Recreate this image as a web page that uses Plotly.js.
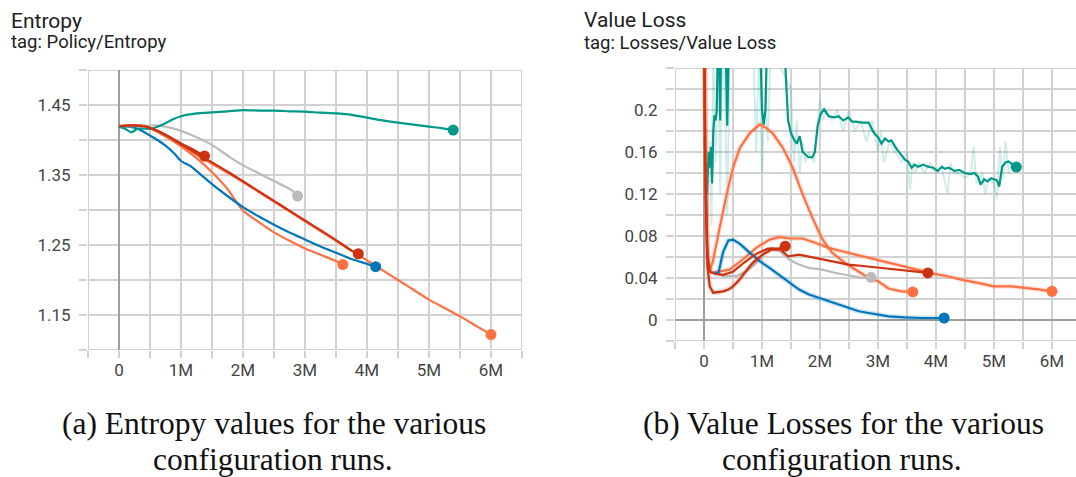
<!DOCTYPE html>
<html><head><meta charset="utf-8">
<script src="https://cdn.plot.ly/plotly-3.0.1.min.js"></script>
<style>html,body{margin:0;padding:0;background:#fff;overflow:hidden}#chart{width:1076px;height:477px}</style>
</head><body><div id="chart"></div>
<script>
// ---------- Entropy (steps in millions) ----------
const entTealX = [0, 0.1, 0.2, 0.3, 0.5, 0.62, 0.75, 0.88, 1.0, 1.25, 1.5, 1.75, 2.0, 2.25, 2.5, 2.75, 3.0, 3.25, 3.5, 3.75, 4.0, 4.25, 4.5, 4.75, 5.0, 5.2, 5.39];
const entTealY = [1.419, 1.416, 1.411, 1.416, 1.416, 1.419, 1.424, 1.430, 1.434, 1.438, 1.4395, 1.441, 1.4428, 1.442, 1.442, 1.441, 1.4405, 1.439, 1.438, 1.436, 1.432, 1.428, 1.4247, 1.422, 1.419, 1.417, 1.4142];
const entGreyX = [0, 0.3, 0.6, 0.8, 1.0, 1.25, 1.5, 1.78, 2.04, 2.31, 2.58, 2.79, 2.88];
const entGreyY = [1.419, 1.420, 1.421, 1.418, 1.413, 1.404, 1.393, 1.376, 1.362, 1.350, 1.338, 1.328, 1.320];
const entBlueX = [0, 0.15, 0.3, 0.45, 0.6, 0.75, 0.9, 1.0, 1.15, 1.3, 1.5, 1.75, 2.0, 2.25, 2.5, 2.75, 3.0, 3.25, 3.5, 3.75, 4.0, 4.14];
const entBlueY = [1.419, 1.419, 1.416, 1.409, 1.401, 1.392, 1.380, 1.370, 1.363, 1.352, 1.337, 1.320, 1.304, 1.291, 1.279, 1.268, 1.258, 1.248, 1.239, 1.230, 1.223, 1.219];
const entOrangeAX = [0, 0.3, 0.5, 0.75, 1.0, 1.25, 1.5, 1.75, 2.0, 2.25, 2.5, 2.75, 3.0, 3.25, 3.5, 3.61];
const entOrangeAY = [1.419, 1.420, 1.417, 1.405, 1.391, 1.374, 1.354, 1.330, 1.299, 1.283, 1.268, 1.256, 1.245, 1.236, 1.227, 1.222];
const entOrangeBX = [0, 0.2, 0.4, 0.6, 0.8, 1.0, 1.25, 1.5, 1.75, 2.0, 2.25, 2.5, 2.75, 3.0, 3.25, 3.5, 3.75, 4.0, 4.25, 4.5, 4.75, 5.0, 5.25, 5.5, 5.75, 6.0];
const entOrangeBY = [1.420, 1.421, 1.419, 1.413, 1.404, 1.393, 1.379, 1.366, 1.353, 1.340, 1.326, 1.312, 1.298, 1.284, 1.270, 1.256, 1.242, 1.228, 1.214, 1.200, 1.186, 1.172, 1.160, 1.148, 1.135, 1.122];
const entRed1X = [0, 0.2, 0.4, 0.6, 0.8, 1.0, 1.2, 1.38];
const entRed1Y = [1.420, 1.421, 1.420, 1.414, 1.405, 1.395, 1.386, 1.377];
const entRed2X = [0, 0.2, 0.4, 0.6, 0.8, 1.0, 1.25, 1.5, 1.75, 2.0, 2.25, 2.5, 2.75, 3.0, 3.25, 3.5, 3.75, 3.86];
const entRed2Y = [1.420, 1.421, 1.420, 1.414, 1.405, 1.394, 1.381, 1.368, 1.355, 1.341, 1.327, 1.313, 1.299, 1.285, 1.271, 1.257, 1.242, 1.2375];

// ---------- Value Loss (steps in millions) ----------
const vlBlueX = [0.17, 0.25, 0.33, 0.42, 0.5, 0.62, 0.79, 0.96, 1.13, 1.3, 1.47, 1.64, 1.81, 1.98, 2.15, 2.32, 2.49, 2.67, 2.84, 3.0, 3.18, 3.46, 3.75, 4.14];
const vlBlueY = [0.044, 0.045, 0.065, 0.0757, 0.0766, 0.0725, 0.0639, 0.056, 0.0496, 0.0425, 0.0353, 0.029, 0.0242, 0.021, 0.0178, 0.0146, 0.0114, 0.0083, 0.0067, 0.0051, 0.0035, 0.0025, 0.0019, 0.0019];
const vlGreyX = [0.1, 0.2, 0.33, 0.56, 0.73, 0.9, 1.07, 1.18, 1.3, 1.47, 1.64, 1.81, 2.04, 2.27, 2.49, 2.72, 2.88];
const vlGreyY = [0.047, 0.044, 0.0417, 0.0417, 0.0464, 0.0544, 0.0655, 0.0687, 0.0655, 0.0576, 0.0528, 0.0496, 0.048, 0.0448, 0.0426, 0.0401, 0.0407];
const vlRed1X = [0, 0.01, 0.03, 0.06, 0.1, 0.16, 0.25, 0.33, 0.42, 0.5, 0.59, 0.67, 0.76, 0.84, 0.93, 1.01, 1.1, 1.16, 1.27, 1.4];
const vlRed1Y = [0.30, 0.24, 0.12, 0.05, 0.032, 0.026, 0.0265, 0.0273, 0.029, 0.0321, 0.037, 0.0432, 0.049, 0.0544, 0.059, 0.0623, 0.065, 0.0671, 0.0671, 0.0703];
const vlRed2X = [0, 0.02, 0.06, 0.1, 0.2, 0.33, 0.5, 0.7, 0.9, 1.1, 1.3, 1.45, 1.64, 1.92, 2.21, 2.49, 2.78, 3.06, 3.35, 3.6, 3.86];
const vlRed2Y = [0.30, 0.15, 0.06, 0.046, 0.044, 0.043, 0.046, 0.055, 0.063, 0.068, 0.068, 0.0607, 0.0623, 0.0592, 0.056, 0.0528, 0.0512, 0.0496, 0.048, 0.0465, 0.0448];
const vlOrangeAX = [0, 0.02, 0.05, 0.1, 0.15, 0.2, 0.27, 0.39, 0.5, 0.62, 0.79, 0.96, 1.07, 1.18, 1.36, 1.53, 1.7, 1.87, 2.04, 2.21, 2.44, 2.67, 2.84, 3.0, 3.18, 3.4, 3.6];
const vlOrangeAY = [0.30, 0.16, 0.07, 0.048, 0.055, 0.07, 0.088, 0.1196, 0.145, 0.164, 0.178, 0.1863, 0.183, 0.178, 0.164, 0.145, 0.1196, 0.0973, 0.077, 0.064, 0.054, 0.046, 0.040, 0.037, 0.030, 0.0273, 0.0267];
const vlOrangeBX = [0, 0.02, 0.06, 0.13, 0.25, 0.44, 0.67, 0.9, 1.13, 1.3, 1.47, 1.7, 1.92, 2.15, 2.38, 2.61, 2.84, 3.06, 3.29, 3.52, 3.75, 3.97, 4.2, 4.43, 4.72, 5.0, 5.28, 5.57, 5.8, 6.0];
const vlOrangeBY = [0.30, 0.15, 0.06, 0.045, 0.046, 0.048, 0.0576, 0.0687, 0.0766, 0.0789, 0.0776, 0.0776, 0.0735, 0.0687, 0.0655, 0.0623, 0.0592, 0.056, 0.0528, 0.0496, 0.0464, 0.0439, 0.0417, 0.0385, 0.0353, 0.0321, 0.0321, 0.0305, 0.029, 0.0273];
const vlTealX = [0.05, 0.08, 0.1, 0.12, 0.14, 0.16, 0.18, 0.2, 0.22, 0.25, 0.28, 0.3, 0.33, 0.36, 0.4, 0.42, 0.45, 0.5, 0.7, 0.95, 1.0, 1.03, 1.06, 1.1, 1.2, 1.35, 1.4, 1.45, 1.5, 1.55, 1.6, 1.65, 1.7, 1.75, 1.8, 1.87, 1.91, 1.96, 2.01, 2.07, 2.15, 2.25, 2.32, 2.4, 2.49, 2.55, 2.62, 2.72, 2.84, 2.92, 3.0, 3.06, 3.12, 3.18, 3.23, 3.32, 3.4, 3.46, 3.52, 3.58, 3.63, 3.69, 3.78, 3.86, 3.95, 4.03, 4.1, 4.15, 4.22, 4.32, 4.4, 4.49, 4.6, 4.66, 4.72, 4.77, 4.83, 4.89, 4.95, 5.0, 5.05, 5.09, 5.14, 5.2, 5.25, 5.3, 5.385];
const vlTealY = [0.12, 0.16, 0.145, 0.165, 0.13, 0.18, 0.195, 0.19, 0.20, 0.30, 0.19, 0.30, 0.24, 0.30, 0.185, 0.30, 0.32, 0.34, 0.36, 0.30, 0.20, 0.186, 0.20, 0.30, 0.35, 0.30, 0.24, 0.19, 0.178, 0.172, 0.168, 0.175, 0.16, 0.157, 0.155, 0.155, 0.16, 0.185, 0.196, 0.2007, 0.194, 0.193, 0.194, 0.190, 0.193, 0.189, 0.189, 0.188, 0.188, 0.179, 0.174, 0.168, 0.173, 0.170, 0.171, 0.163, 0.157, 0.153, 0.151, 0.145, 0.148, 0.146, 0.148, 0.146, 0.145, 0.142, 0.146, 0.144, 0.145, 0.142, 0.143, 0.140, 0.139, 0.140, 0.137, 0.129, 0.134, 0.132, 0.135, 0.134, 0.133, 0.127, 0.146, 0.150, 0.151, 0.149, 0.1456];
const vlTealRawX = [0.06, 0.1, 0.13, 0.16, 0.2, 0.24, 0.28, 0.32, 0.36, 0.4, 0.45, 0.5, 0.55, 0.85, 0.9, 0.95, 1.0, 1.05, 1.1, 1.15, 1.5, 1.55, 1.6, 1.65, 1.7, 1.75, 1.8, 1.9, 2.0, 2.05, 2.1, 2.2, 2.3, 2.4, 2.5, 2.6, 2.7, 2.8, 2.9, 3.0, 3.05, 3.1, 3.2, 3.3, 3.4, 3.5, 3.55, 3.6, 3.65, 3.7, 3.8, 3.9, 4.0, 4.1, 4.2, 4.25, 4.3, 4.4, 4.5, 4.6, 4.65, 4.7, 4.8, 4.85, 4.9, 5.0, 5.05, 5.1, 5.15, 5.2, 5.25, 5.3, 5.385];
const vlTealRawY = [0.10, 0.17, 0.09, 0.26, 0.15, 0.26, 0.12, 0.26, 0.22, 0.10, 0.26, 0.30, 0.26, 0.26, 0.16, 0.26, 0.14, 0.22, 0.17, 0.26, 0.22, 0.15, 0.19, 0.14, 0.17, 0.15, 0.16, 0.15, 0.21, 0.19, 0.20, 0.19, 0.20, 0.18, 0.20, 0.18, 0.19, 0.17, 0.19, 0.16, 0.18, 0.15, 0.17, 0.16, 0.15, 0.16, 0.124, 0.15, 0.14, 0.15, 0.14, 0.15, 0.14, 0.145, 0.12, 0.15, 0.14, 0.14, 0.135, 0.14, 0.165, 0.13, 0.14, 0.12, 0.135, 0.13, 0.115, 0.165, 0.135, 0.17, 0.14, 0.15, 0.146];

// ---------- Axis ranges and ticks ----------
const entXRange = [-0.5, 6.5], entYRange = [1.10, 1.50];
const vlXRange = [-0.5, -0.5 + 401 / 58], vlYRange = [-0.02, 0.24];
const xTickVals = [-0.5, 0, 0.5, 1, 1.5, 2, 2.5, 3, 3.5, 4, 4.5, 5, 5.5, 6, 6.5];
const xTickText = ['', '0', '', '1M', '', '2M', '', '3M', '', '4M', '', '5M', '', '6M', ''];
const entYTickVals = [1.10, 1.15, 1.20, 1.25, 1.30, 1.35, 1.40, 1.45, 1.50];
const entYTickText = ['', '1.15', '', '1.25', '', '1.35', '', '1.45', ''];
const vlYTickVals = [-0.02, 0, 0.02, 0.04, 0.06, 0.08, 0.10, 0.12, 0.14, 0.16, 0.18, 0.20, 0.22, 0.24];
const vlYTickText = ['', '0', '', '0.04', '', '0.08', '', '0.12', '', '0.16', '', '0.2', '', ''];

const C = {teal:'#009988', grey:'#bbbbbb', blue:'#0077bb', orange:'#ff7043', red:'#cc3311'};
const gridC = '#d2d2d2', zeroC = '#9e9e9e';
const traces = [];

// grid + zero lines as line traces built from the tick arrays and axis ranges
function grid(xa, ya, xvals, yvals, xr, yr) {
  const gx = [], gy = [], zx = [], zy = [];
  xvals.forEach(v => { if (v >= xr[0] && v <= xr[1] + 1e-9) {
    const tx = v === 0 ? zx : gx, ty = v === 0 ? zy : gy; tx.push(v, v, null); ty.push(yr[0], yr[1], null); } });
  yvals.forEach(v => { if (v >= yr[0] - 1e-9 && v <= yr[1] + 1e-9) {
    const tx = v === 0 ? zx : gx, ty = v === 0 ? zy : gy; tx.push(xr[0], xr[1], null); ty.push(v, v, null); } });
  traces.push({x: gx, y: gy, xaxis: xa, yaxis: ya, mode: 'lines', type: 'scatter', line: {color: gridC, width: 2}, hoverinfo: 'skip', cliponaxis: false});
  traces.push({x: zx, y: zy, xaxis: xa, yaxis: ya, mode: 'lines', type: 'scatter', line: {color: zeroC, width: 2}, hoverinfo: 'skip', cliponaxis: false});
}
grid('x', 'y', xTickVals, entYTickVals, entXRange, entYRange);
grid('x2', 'y2', xTickVals, vlYTickVals, vlXRange, vlYRange);

function series(xs, ys, color, xa, ya, shape, halo) {
  if (halo) traces.push({x: xs, y: ys, xaxis: xa, yaxis: ya, mode: 'lines', type: 'scatter',
    line: {color: color, width: 5, shape: shape, smoothing: 0.6}, opacity: 0.18, hoverinfo: 'skip'});
  traces.push({x: xs, y: ys, xaxis: xa, yaxis: ya, mode: 'lines', type: 'scatter',
    line: {color: color, width: 2.2, shape: shape, smoothing: 0.6}, hoverinfo: 'skip'});
  traces.push({x: [xs[xs.length-1]], y: [ys[ys.length-1]], xaxis: xa, yaxis: ya, mode: 'markers', type: 'scatter',
    marker: {color: color, size: 11}, hoverinfo: 'skip'});
}
// Entropy
series(entOrangeBX, entOrangeBY, C.orange, 'x', 'y', 'spline', false);
series(entOrangeAX, entOrangeAY, C.orange, 'x', 'y', 'spline', false);
series(entBlueX, entBlueY, C.blue, 'x', 'y', 'spline', false);
series(entGreyX, entGreyY, C.grey, 'x', 'y', 'spline', false);
series(entTealX, entTealY, C.teal, 'x', 'y', 'spline', false);
series(entRed2X, entRed2Y, C.red, 'x', 'y', 'spline', false);
series(entRed1X, entRed1Y, C.red, 'x', 'y', 'spline', false);
// Value loss
traces.push({x: vlTealRawX, y: vlTealRawY, xaxis: 'x2', yaxis: 'y2', mode: 'lines', type: 'scatter',
  line: {color: C.teal, width: 2}, opacity: 0.18, hoverinfo: 'skip'});
series(vlTealX, vlTealY, C.teal, 'x2', 'y2', 'linear', false);
series(vlOrangeBX, vlOrangeBY, C.orange, 'x2', 'y2', 'linear', true);
series(vlOrangeAX, vlOrangeAY, C.orange, 'x2', 'y2', 'linear', true);
series(vlGreyX, vlGreyY, C.grey, 'x2', 'y2', 'linear', false);
series(vlBlueX, vlBlueY, C.blue, 'x2', 'y2', 'linear', true);
series(vlRed2X, vlRed2Y, C.red, 'x2', 'y2', 'linear', false);
series(vlRed1X, vlRed1Y, C.red, 'x2', 'y2', 'linear', true);

const W = 1076, H = 477;
const tickFont = {family: 'Roboto', size: 17, color: '#444444'};
function xAxis(domain, range, anchor) {
  return {domain: domain, range: range, anchor: anchor, tickmode: 'array', tickvals: xTickVals, ticktext: xTickText,
    showgrid: false, zeroline: false, ticks: 'outside', ticklen: 7, tickwidth: 2, tickcolor: gridC,
    showline: false, tickfont: tickFont, ticklabelstandoff: -2};
}
function yAxis(domain, range, anchor, vals, text) {
  return {domain: domain, range: range, anchor: anchor, tickmode: 'array', tickvals: vals, ticktext: text,
    showgrid: false, zeroline: false, ticks: 'outside', ticklen: 8, tickwidth: 2, tickcolor: gridC,
    showline: false, tickfont: tickFont, ticklabelstandoff: 5};
}
const py = p => 1 - p / H, px = p => p / W;
const titleFont = {family: 'Roboto', size: 21, color: '#212121'};
const subFont = {family: 'Roboto', size: 18.5, color: '#212121'};
const capFont = {family: 'Liberation Serif', size: 31.5, color: '#111111'};
function ann(text, x, y, font, xanchor) {
  return {text: text, x: x, y: y, xref: 'paper', yref: 'paper', xanchor: xanchor, yanchor: 'middle', showarrow: false, font: font};
}
// plot areas placed on whole pixels so that grid lines fall on the pixel grid
const layout = {
  width: W, height: H, margin: {l: 0, r: 0, t: 0, b: 0}, showlegend: false, hovermode: false,
  xaxis: xAxis([px(88), px(522)], entXRange, 'y'),
  yaxis: yAxis([py(350), py(70)], entYRange, 'x', entYTickVals, entYTickText),
  xaxis2: xAxis([px(675), 1], vlXRange, 'y2'),
  yaxis2: yAxis([py(341), py(68)], vlYRange, 'x2', vlYTickVals, vlYTickText),
  annotations: [
    ann('Entropy', px(9), py(20.6), titleFont, 'left'),
    ann('tag: Policy/Entropy', px(9), py(42.5), subFont, 'left'),
    ann('Value Loss', px(581.7), py(19.6), titleFont, 'left'),
    ann('tag: Losses/Value Loss', px(581.7), py(43.2), subFont, 'left'),
    ann('(a) Entropy values for the various', px(274), py(423.5), capFont, 'center'),
    ann('configuration runs.', px(273), py(459.2), capFont, 'center'),
    ann('(b) Value Losses for the various', px(843), py(423.5), capFont, 'center'),
    ann('configuration runs.', px(842), py(459.2), capFont, 'center')
  ]
};
Plotly.newPlot('chart', traces, layout, {staticPlot: true});
</script>
</body></html>
